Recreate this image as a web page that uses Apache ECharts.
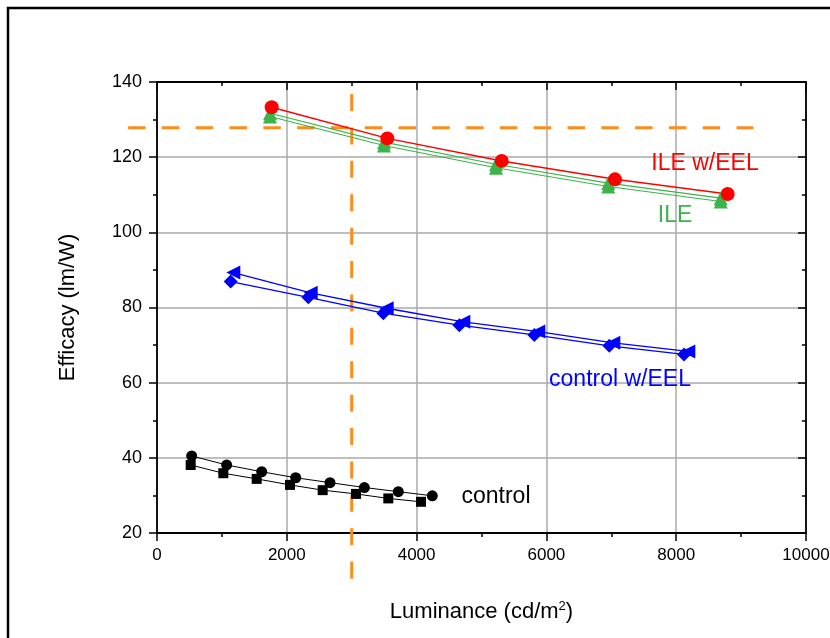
<!DOCTYPE html>
<html><head><meta charset="utf-8">
<script src="https://cdn.jsdelivr.net/npm/echarts@6/dist/echarts.min.js"></script>
<style>html,body{margin:0;padding:0;background:#fff}#c{width:830px;height:638px}</style>
</head><body><div id="c"></div>
<script>
// Axis ticks
const xTicks = [0, 2000, 4000, 6000, 8000, 10000];
const yTicks = [20, 40, 60, 80, 100, 120, 140];

// ILE w/EEL (red circles)
const ileEelX = [1767, 3549, 5311, 7057, 8793];
const ileEelY = [133.3, 125.0, 119.0, 114.1, 110.2];
// ILE (green, two traces)
const ileX = [1741, 3498, 5223, 6954, 8686];
const ileAY = [131.7, 124.0, 118.1, 113.1, 109.1];
const ileBY = [130.8, 123.1, 117.2, 112.2, 108.2];
// control w/EEL (blue)
const ctrlEelTriX = [1176, 2368, 3539, 4720, 5875, 7031, 8187];
const ctrlEelTriY = [89.3, 83.9, 79.8, 76.2, 73.6, 70.6, 68.3];
const ctrlEelDiaX = [1135, 2332, 3487, 4659, 5814, 6969, 8120];
const ctrlEelDiaY = [86.9, 82.7, 78.5, 75.3, 72.7, 69.8, 67.5];
// control (black)
const ctrlCirX = [534, 1073, 1613, 2137, 2666, 3195, 3718, 4242];
const ctrlCirY = [40.5, 38.1, 36.3, 34.7, 33.4, 32.1, 31.0, 29.9];
const ctrlSqX = [519, 1022, 1536, 2049, 2553, 3066, 3564, 4068];
const ctrlSqY = [38.1, 35.9, 34.4, 32.8, 31.4, 30.4, 29.2, 28.3];

// Orange reference lines (value and extent, in data units)
const refY = 127.8, refYSpan = [-445, 9190];
const refX = 3000, refXSpan = [136.8, 7.7];

const FONT = '"Liberation Sans", Arial, sans-serif';
const zip = (xs, ys) => xs.map((x, i) => [x, ys[i]]);

const chart = echarts.init(document.getElementById('c'), null, {renderer: 'canvas'});

const gridLine = {show: true, lineStyle: {color: '#aaaaaa', width: 1.5}};
const axLine = {show: true, onZero: false, lineStyle: {color: '#000', width: 1.8}};

function serie(name, data, color, symbol, size, extra) {
  return Object.assign({
    name, type: 'line', data, xAxisIndex: 0, yAxisIndex: 0,
    symbol, symbolSize: size, showAllSymbol: true,
    lineStyle: {color, width: 1.3},
    itemStyle: {color, borderWidth: 0},
    z: 5, animation: false, silent: true
  }, extra || {});
}

const option = {
  backgroundColor: '#fff',
  animation: false,
  grid: {left: 157, top: 82, width: 649, height: 451, containLabel: false, outerBoundsMode: 'none'},
  xAxis: [{
    type: 'value', position: 'bottom',
    min: xTicks[0], max: xTicks[xTicks.length - 1], interval: xTicks[1] - xTicks[0],
    axisLine: axLine,
    axisTick: {show: true, inside: false, length: 8, lineStyle: {color: '#000', width: 1.5}},
    minorTick: {show: true, splitNumber: 2, length: 4, lineStyle: {color: '#000', width: 1.5}},
    splitLine: gridLine,
    axisLabel: {show: true, margin: 14, color: '#000', fontSize: 17, fontFamily: FONT, showMaxLabel: true,
      formatter: v => String(v)},
    name: 'Luminance (cd/m{sup|2})',
    nameLocation: 'middle', nameGap: 67,
    nameTextStyle: {color: '#000', fontSize: 22, fontFamily: FONT,
      rich: {sup: {fontSize: 13, fontFamily: FONT, color: '#000', verticalAlign: 'top', padding: [0, 0, 10, 0]}}}
  }, {
    type: 'value', position: 'top',
    min: xTicks[0], max: xTicks[xTicks.length - 1], interval: xTicks[1] - xTicks[0],
    axisLine: axLine,
    axisTick: {show: true, inside: true, length: 8, lineStyle: {color: '#000', width: 1.5}},
    minorTick: {show: true, splitNumber: 2, length: 4, lineStyle: {color: '#000', width: 1.5}},
    splitLine: {show: false}, axisLabel: {show: false}
  }],
  yAxis: [{
    type: 'value', position: 'left',
    min: yTicks[0], max: yTicks[yTicks.length - 1], interval: yTicks[1] - yTicks[0],
    axisLine: axLine,
    axisTick: {show: true, inside: false, length: 8, lineStyle: {color: '#000', width: 1.5}},
    minorTick: {show: true, splitNumber: 2, length: 4, lineStyle: {color: '#000', width: 1.5}},
    splitLine: gridLine,
    axisLabel: {show: true, margin: 15, color: '#000', fontSize: 18, fontFamily: FONT},
    name: 'Efficacy (lm/W)', nameLocation: 'middle', nameGap: 78, nameRotate: 90,
    nameTextStyle: {color: '#000', fontSize: 22, fontFamily: FONT}
  }, {
    type: 'value', position: 'right',
    min: yTicks[0], max: yTicks[yTicks.length - 1], interval: yTicks[1] - yTicks[0],
    axisLine: axLine,
    axisTick: {show: true, inside: true, length: 8, lineStyle: {color: '#000', width: 1.5}},
    minorTick: {show: true, splitNumber: 2, length: 4, lineStyle: {color: '#000', width: 1.5}},
    splitLine: {show: false}, axisLabel: {show: false}
  }],
  series: [
    serie('ILE a', zip(ileX, ileAY), '#3cb44b', 'triangle', 14, {lineStyle: {color: '#3cb44b', width: 1.1}}),
    serie('ILE b', zip(ileX, ileBY), '#3cb44b', 'triangle', 14, {lineStyle: {color: '#3cb44b', width: 1.1}}),
    serie('ILE w/EEL', zip(ileEelX, ileEelY), '#ff0000', 'circle', 14, {lineStyle: {color: '#ff0000', width: 1.5}}),
    serie('control w/EEL tri', zip(ctrlEelTriX, ctrlEelTriY), '#0000ff', 'triangle', 14, {symbolRotate: 90}),
    serie('control w/EEL dia', zip(ctrlEelDiaX, ctrlEelDiaY), '#0000ff', 'diamond', 14),
    serie('control cir', zip(ctrlCirX, ctrlCirY), '#000000', 'circle', 11, {lineStyle: {color: '#000', width: 1}}),
    serie('control sq', zip(ctrlSqX, ctrlSqY), '#000000', 'rect', 10, {lineStyle: {color: '#000', width: 1}})
  ],
  graphic: [
    {id: 'frame', type: 'rect', silent: true, z: 0, shape: {x: 8, y: 8, width: 900, height: 700},
      style: {fill: 'none', stroke: '#000', lineWidth: 2.5}},
    {id: 't1', type: 'text', silent: true, z: 10, x: 705, y: 164,
      style: {text: 'ILE w/EEL', fill: '#ff0000', font: '23px ' + FONT, textAlign: 'center', textVerticalAlign: 'middle'}},
    {id: 't2', type: 'text', silent: true, z: 10, x: 675, y: 216,
      style: {text: 'ILE', fill: '#3cb44b', font: '23px ' + FONT, textAlign: 'center', textVerticalAlign: 'middle'}},
    {id: 't3', type: 'text', silent: true, z: 10, x: 620, y: 380,
      style: {text: 'control w/EEL', fill: '#0000ff', font: '23px ' + FONT, textAlign: 'center', textVerticalAlign: 'middle'}},
    {id: 't4', type: 'text', silent: true, z: 10, x: 496, y: 497,
      style: {text: 'control', fill: '#000000', font: '23px ' + FONT, textAlign: 'center', textVerticalAlign: 'middle'}}
  ]
};
chart.setOption(option);

// Reference lines placed through the axis scales
const h0 = chart.convertToPixel({gridIndex: 0}, [refYSpan[0], refY]);
const h1 = chart.convertToPixel({gridIndex: 0}, [refYSpan[1], refY]);
const v0 = chart.convertToPixel({gridIndex: 0}, [refX, refXSpan[0]]);
const v1 = chart.convertToPixel({gridIndex: 0}, [refX, refXSpan[1]]);
chart.setOption({
  graphic: [
    {id: 'refH', type: 'line', silent: true, z: 3,
      shape: {x1: h0[0], y1: h0[1], x2: h1[0], y2: h1[1]},
      style: {stroke: '#ff8c1a', lineWidth: 3, lineDash: [17.5, 16.3], lineCap: 'butt'}},
    {id: 'refV', type: 'line', silent: true, z: 3,
      shape: {x1: v0[0], y1: v0[1], x2: v1[0], y2: v1[1]},
      style: {stroke: '#ff8c1a', lineWidth: 3, lineDash: [17, 16.4], lineCap: 'butt'}}
  ]
});
</script>
</body></html>
